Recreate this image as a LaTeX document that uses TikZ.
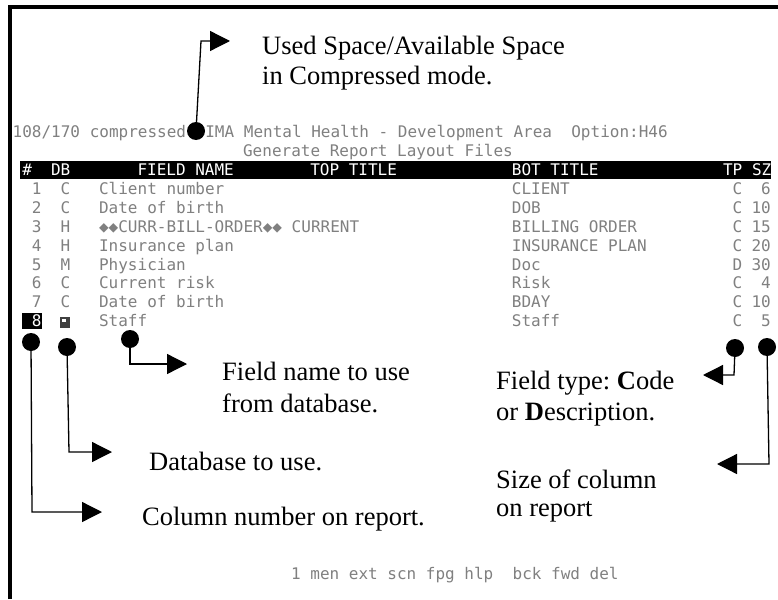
\documentclass[tikz,border=0pt]{standalone}
\usepackage{fontspec}
\setmainfont{Liberation Serif}
\newfontfamily\scrfont{DejaVu Sans Mono}
\usetikzlibrary{arrows.meta}
\definecolor{scrgray}{gray}{0.5}
\newcommand{\gx}[1]{12.5+9.6*#1}
\frenchspacing
\tikzset{
 scr/.style={font=\scrfont\fontsize{16}{16}\selectfont, text=scrgray, inner sep=0pt, anchor=base west},
 scrr/.style={scr, anchor=base east},
 hdr/.style={scr, text=white},
 lbl/.style={font=\fontsize{26.5}{30}\selectfont, inner sep=0pt, anchor=base west},
 dotmark/.style={circle, fill=black, minimum size=18pt, inner sep=0pt},
 ann/.style={line width=1.3pt, -{Triangle[length=20pt,width=20pt]}},
}
\begin{document}
\begin{tikzpicture}[x=1pt,y=-1pt]
\useasboundingbox (0,0) rectangle (778,599);
\fill[white] (0,0) rectangle (778,599);
\draw[line width=4pt] (10,599) -- (10,7) -- (778,7);
% screen top lines
\node[scr] (l1) at ({\gx{0}},137.8) {108/170 compressed~~IMA Mental Health - Development Area~~Option:H46};
\node[scr] (l2) at ({\gx{24}},156.8) {Generate Report Layout Files};
% header bar
\fill[black] (20,160.6) rectangle (771,179.4);
\node[hdr] (h1) at ({\gx{1}},175.8) {\#};
\node[hdr] (h2) at ({\gx{4}},175.8) {DB};
\node[hdr] (h3) at ({\gx{13}},175.8) {FIELD NAME};
\node[hdr] (h4) at ({\gx{31}},175.8) {TOP TITLE};
\node[hdr] (h5) at ({\gx{52}},175.8) {BOT TITLE};
\node[hdr] (h6) at ({\gx{74}},175.8) {TP SZ};
% rows
\node[scr] (r1n) at ({\gx{2}},194.8) {1};
\node[scr] (r1d) at ({\gx{5}},194.8) {C};
\node[scr] (r1f) at ({\gx{9}},194.8) {Client number};
\node[scr] (r1b) at ({\gx{52}},194.8) {CLIENT};
\node[scr] (r1t) at ({\gx{75}},194.8) {C};
\node[scrr] (r1s) at (771,194.8) {6};
\node[scr] (r2n) at ({\gx{2}},213.6) {2};
\node[scr] (r2d) at ({\gx{5}},213.6) {C};
\node[scr] (r2f) at ({\gx{9}},213.6) {Date of birth};
\node[scr] (r2b) at ({\gx{52}},213.6) {DOB};
\node[scr] (r2t) at ({\gx{75}},213.6) {C};
\node[scrr] (r2s) at (771,213.6) {10};
\node[scr] (r3n) at ({\gx{2}},232.4) {3};
\node[scr] (r3d) at ({\gx{5}},232.4) {H};
\node[scr] (r3f) at ({\gx{9}},232.4) {◆◆CURR-BILL-ORDER◆◆ CURRENT};
\node[scr] (r3b) at ({\gx{52}},232.4) {BILLING ORDER};
\node[scr] (r3t) at ({\gx{75}},232.4) {C};
\node[scrr] (r3s) at (771,232.4) {15};
\node[scr] (r4n) at ({\gx{2}},251.2) {4};
\node[scr] (r4d) at ({\gx{5}},251.2) {H};
\node[scr] (r4f) at ({\gx{9}},251.2) {Insurance plan};
\node[scr] (r4b) at ({\gx{52}},251.2) {INSURANCE PLAN};
\node[scr] (r4t) at ({\gx{75}},251.2) {C};
\node[scrr] (r4s) at (771,251.2) {20};
\node[scr] (r5n) at ({\gx{2}},270) {5};
\node[scr] (r5d) at ({\gx{5}},270) {M};
\node[scr] (r5f) at ({\gx{9}},270) {Physician};
\node[scr] (r5b) at ({\gx{52}},270) {Doc};
\node[scr] (r5t) at ({\gx{75}},270) {D};
\node[scrr] (r5s) at (771,270) {30};
\node[scr] (r6n) at ({\gx{2}},288.8) {6};
\node[scr] (r6d) at ({\gx{5}},288.8) {C};
\node[scr] (r6f) at ({\gx{9}},288.8) {Current risk};
\node[scr] (r6b) at ({\gx{52}},288.8) {Risk};
\node[scr] (r6t) at ({\gx{75}},288.8) {C};
\node[scrr] (r6s) at (771,288.8) {4};
\node[scr] (r7n) at ({\gx{2}},307.6) {7};
\node[scr] (r7d) at ({\gx{5}},307.6) {C};
\node[scr] (r7f) at ({\gx{9}},307.6) {Date of birth};
\node[scr] (r7b) at ({\gx{52}},307.6) {BDAY};
\node[scr] (r7t) at ({\gx{75}},307.6) {C};
\node[scrr] (r7s) at (771,307.6) {10};
\fill[black] (21.7,313) rectangle (41.7,329);
\node[hdr] (r8n) at ({\gx{2}},326.4) {8};
\fill[black!75] (60,316.5) rectangle (70,328);
\fill[white] (62,318.5) rectangle (66,322);
\node[scr] (r8f) at ({\gx{9}},326.4) {Staff};
\node[scr] (r8b) at ({\gx{52}},326.4) {Staff};
\node[scr] (r8t) at ({\gx{75}},326.4) {C};
\node[scrr] (r8s) at (771,326.4) {5};
% bottom menu
\node[scr] (menu) at ({\gx{29}},579) {1 men ext scn fpg hlp~~bck fwd del};
% annotation dots
\node[dotmark] (du) at (196,131) {};
\node[dotmark] (df) at (130,339) {};
\node[dotmark] (dd) at (67,347) {};
\node[dotmark] (dr) at (31,342) {};
\node[dotmark] (dt) at (735,348) {};
\node[dotmark] (ds) at (767,347) {};
% bends and tips
\coordinate (ub) at (201,41);  \coordinate (ut) at (230,41);
\coordinate (fb) at (130,364); \coordinate (ft) at (187,364);
\coordinate (db) at (69,452);  \coordinate (dtip) at (112,452);
\coordinate (rb) at (32,512);  \coordinate (rt) at (102,512);
\coordinate (tb) at (734,375); \coordinate (tt) at (703,375);
\coordinate (sb) at (769,464); \coordinate (st) at (717,464);
\draw[ann] (du.center) -- (ub) -- (ut);
\draw[ann] (df.center) -- (fb) -- (ft);
\draw[ann] (dd.center) -- (db) -- (dtip);
\draw[ann] (dr.center) -- (rb) -- (rt);
\draw[ann] (dt.center) -- (tb) -- (tt);
\draw[ann] (ds.center) -- (sb) -- (st);
% labels
\node[lbl] (tu1) at (262,55) {Used Space/Available Space};
\node[lbl] (tu2) at (262,85) {in Compressed mode.};
\node[lbl] (tf1) at (222,380) {Field name to use};
\node[lbl] (tf2) at (222,412) {from database.};
\node[lbl] (tt1) at (496,389) {Field type: \textbf{C}ode};
\node[lbl] (tt2) at (496,420) {or \textbf{D}escription.};
\node[lbl] (td) at (149,470) {Database to use.};
\node[lbl] (ts1) at (496,488) {Size of column};
\node[lbl] (ts2) at (496,516) {on report};
\node[lbl] (tr) at (142,525) {Column number on report.};
\end{tikzpicture}
\end{document}
